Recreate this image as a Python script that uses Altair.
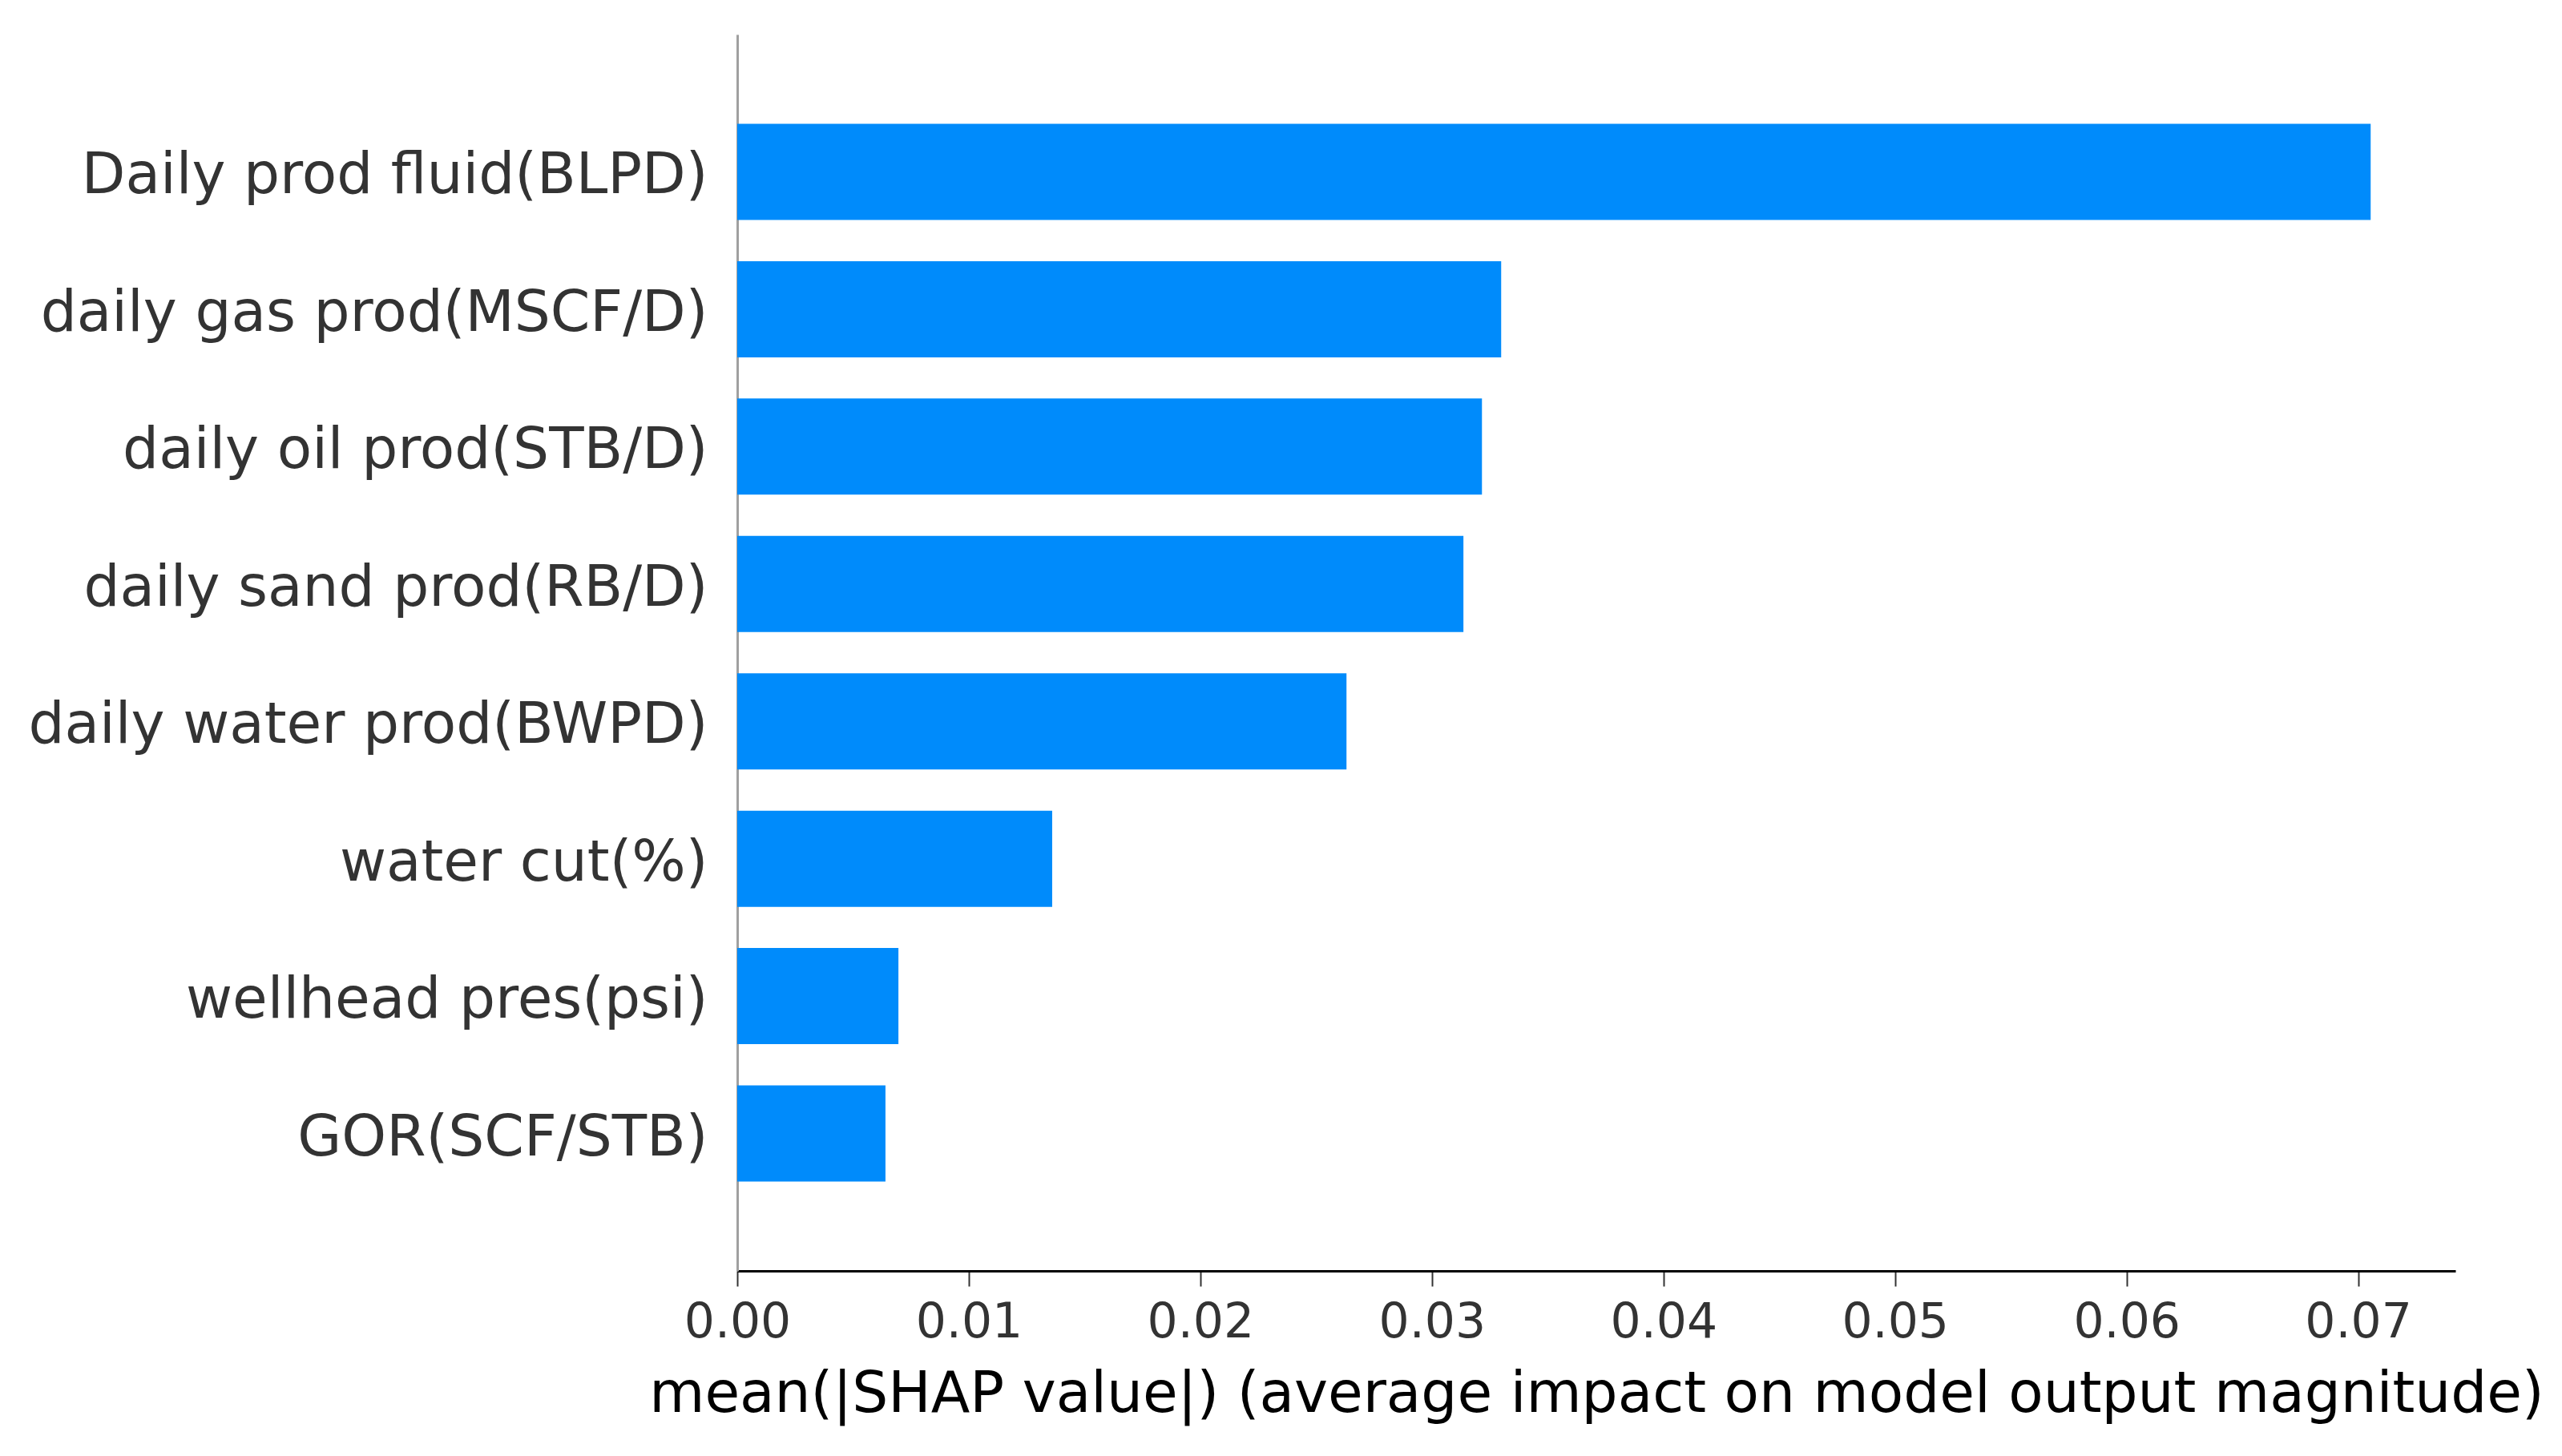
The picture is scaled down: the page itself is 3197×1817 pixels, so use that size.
import altair as alt
import pandas as pd

features = [
    "Daily prod fluid(BLPD)",
    "daily gas prod(MSCF/D)",
    "daily oil prod(STB/D)",
    "daily sand prod(RB/D)",
    "daily water prod(BWPD)",
    "water cut(%)",
    "wellhead pres(psi)",
    "GOR(SCF/STB)",
]
mean_abs_shap = [0.07054, 0.03299, 0.03216, 0.03136, 0.02631, 0.01360, 0.00696, 0.00640]
x_ticks = [0.00, 0.01, 0.02, 0.03, 0.04, 0.05, 0.06, 0.07]

df = pd.DataFrame({"feature": features, "value": mean_abs_shap})

FONT = "DejaVu Sans"

chart = alt.Chart(df).mark_bar(color="#008bfb").encode(
    x=alt.X(
        "value:Q",
        scale=alt.Scale(domain=[0, 0.0742], nice=False, zero=True),
        axis=alt.Axis(
            values=x_ticks,
            format=".2f",
            title="mean(|SHAP value|) (average impact on model output magnitude)",
            grid=False,
            domainColor="#000000",
            domainWidth=3,
            tickColor="#333333",
            tickWidth=2,
            tickSize=19,
            labelFont=FONT,
            labelFontSize=60,
            labelColor="#333333",
            labelPadding=16,
            labelFlush=False,
            titleFont=FONT,
            titleFontSize=71,
            titleFontWeight="normal",
            titleColor="#000000",
            titleBaseline="alphabetic",
            titleY=175,
        ),
    ),
    y=alt.Y(
        "feature:N",
        sort=features,
        scale=alt.Scale(paddingInner=0.3, paddingOuter=0.65),
        axis=alt.Axis(
            title=None,
            ticks=False,
            grid=False,
            domainColor="#a0a0a0",
            domainWidth=3,
            labelFont=FONT,
            labelFontSize=71,
            labelColor="#333333",
            labelPadding=37,
            labelOffset=6,
            labelLimit=2000,
        ),
    ),
).properties(
    width=2144,
    height=1543,
    autosize=alt.AutoSizeParams(type="none"),
    padding={"left": 912, "top": 35, "right": 120, "bottom": 226},
).configure_view(stroke=None)

chart.save("out.html", embed_options={"renderer": "svg", "actions": False})
